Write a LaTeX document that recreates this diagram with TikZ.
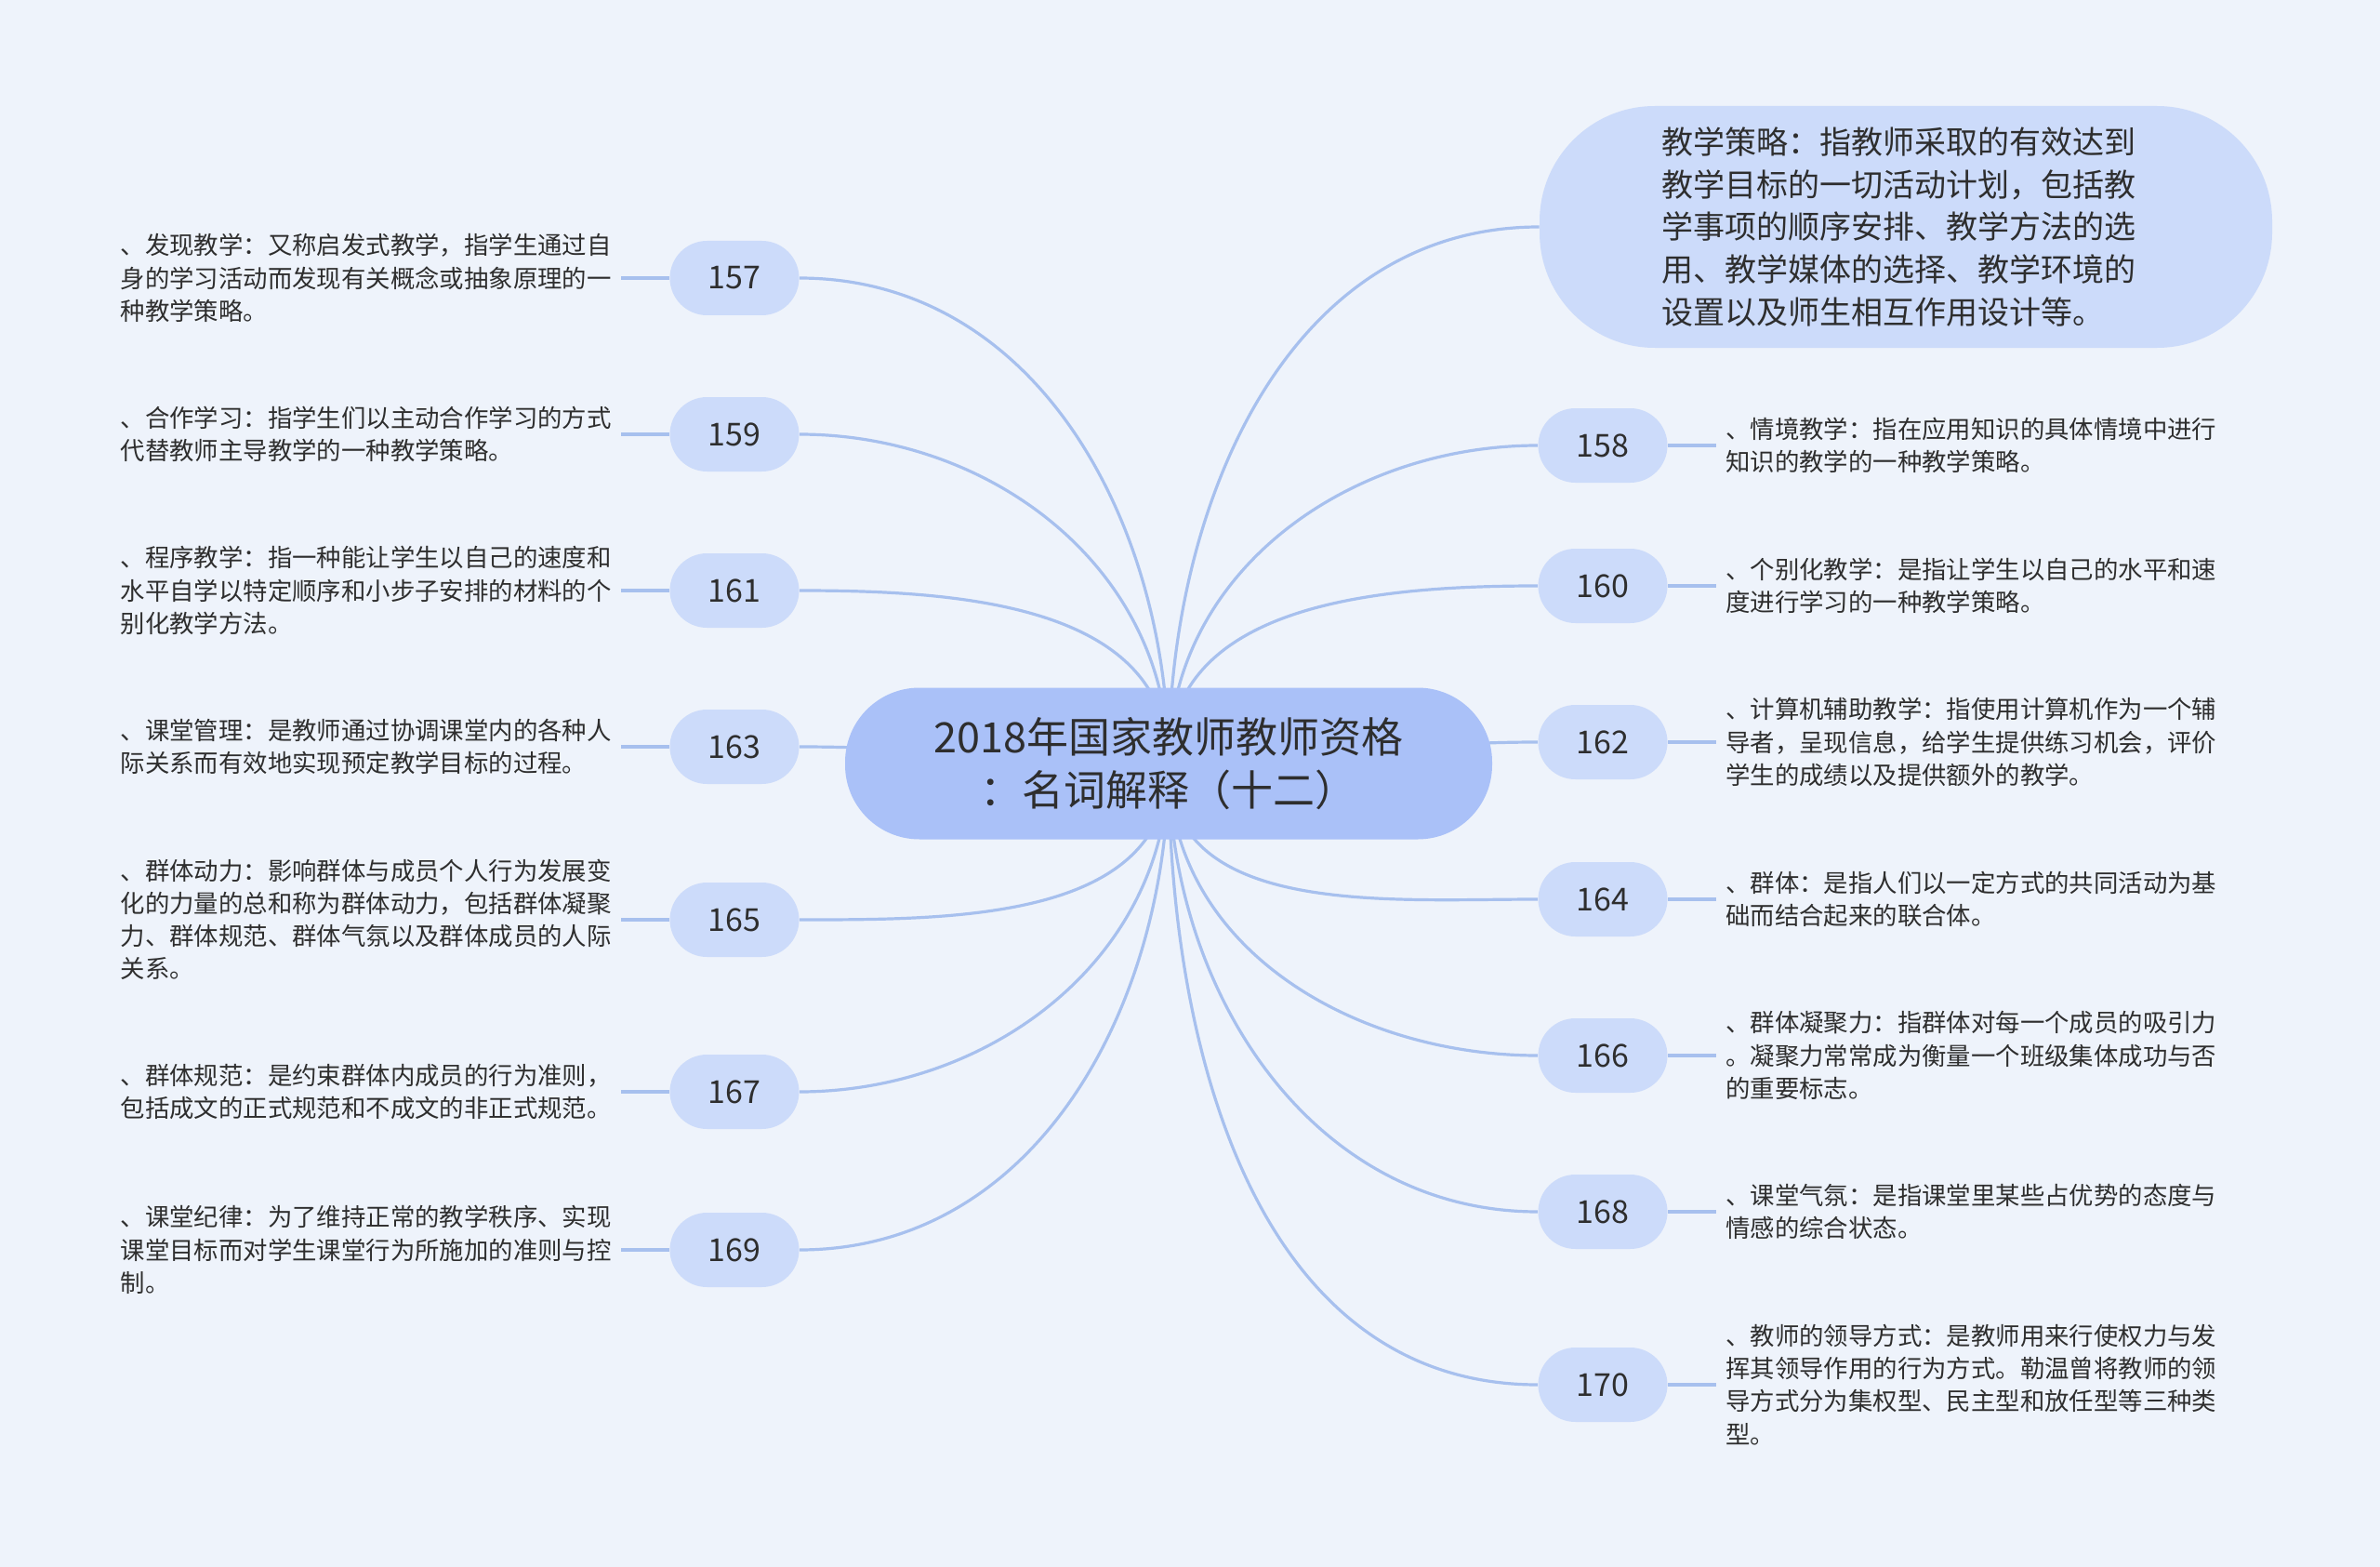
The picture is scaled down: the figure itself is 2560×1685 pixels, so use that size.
\documentclass[tikz,border=0pt]{standalone}
\usepackage{fontspec}
\setmainfont{Noto Sans CJK SC}
\usetikzlibrary{positioning}
\pgfdeclarelayer{back}
\pgfsetlayers{back,main}
\definecolor{bgcol}{HTML}{EEF3FB}
\definecolor{boxcol}{HTML}{CCDBFA}
\definecolor{rootcol}{HTML}{AAC1F8}
\definecolor{linecol}{HTML}{A7C0EE}
\definecolor{txtcol}{HTML}{2E2E2E}

\begin{document}
\begin{tikzpicture}[x=0.5pt,y=-0.5pt,every node/.style={text=txtcol},
  root/.style={fill=rootcol,rounded corners=40pt,minimum width=348pt,
    minimum height=81.5pt,align=center,font=\fontsize{22.5}{28.5}\selectfont},
  bigbox/.style={fill=boxcol,rounded corners=62pt,minimum width=394pt,
    minimum height=130pt,text width=263pt,align=left,
    font=\fontsize{17}{22.8}\selectfont},
  numbox/.style={fill=boxcol,rounded corners=20pt,minimum width=69.5pt,
    minimum height=40pt,inner sep=0pt,font=\fontsize{17}{20}\selectfont},
  note/.style={text width=264pt,align=left,inner xsep=5pt,inner ysep=0pt,
    font=\fontsize{13.2}{17.6}\selectfont},
  branch/.style={draw=linecol,line width=1.6pt}]
\useasboundingbox (0,0) rectangle (2560,1685);
\node[root] (root) at (1257,821) {2018年国家教师教师资格\\：名词解释（十二）};
\node[bigbox] (strat) at (2050,244)
 {教学策略：指教师采取的有效达到\\教学目标的一切活动计划，包括教\\学事项的顺序安排、教学方法的选\\用、教学媒体的选择、教学环境的\\设置以及师生相互作用设计等。};
% left side
\foreach \num/\y/\txt in {
 157/299/{、发现教学：又称启发式教学，指学生通过自\\身的学习活动而发现有关概念或抽象原理的一\\种教学策略。},
 159/467/{、合作学习：指学生们以主动合作学习的方式\\代替教师主导教学的一种教学策略。},
 161/635/{、程序教学：指一种能让学生以自己的速度和\\水平自学以特定顺序和小步子安排的材料的个\\别化教学方法。},
 163/803/{、课堂管理：是教师通过协调课堂内的各种人\\际关系而有效地实现预定教学目标的过程。},
 165/989/{、群体动力：影响群体与成员个人行为发展变\\化的力量的总和称为群体动力，包括群体凝聚\\力、群体规范、群体气氛以及群体成员的人际\\关系。},
 167/1174/{、群体规范：是约束群体内成员的行为准则，\\包括成文的正式规范和不成文的非正式规范。},
 169/1344/{、课堂纪律：为了维持正常的教学秩序、实现\\课堂目标而对学生课堂行为所施加的准则与控\\制。}}{
 \node[numbox] (n\num) at (790,\y) {\num};
 \node[note,left=26pt of n\num] (t\num) {\txt};}
% right side
\foreach \num/\y/\txt in {
 158/479/{、情境教学：指在应用知识的具体情境中进行\\知识的教学的一种教学策略。},
 160/630/{、个别化教学：是指让学生以自己的水平和速\\度进行学习的一种教学策略。},
 162/798/{、计算机辅助教学：指使用计算机作为一个辅\\导者，呈现信息，给学生提供练习机会，评价\\学生的成绩以及提供额外的教学。},
 164/967/{、群体：是指人们以一定方式的共同活动为基\\础而结合起来的联合体。},
 166/1135/{、群体凝聚力：指群体对每一个成员的吸引力\\。凝聚力常常成为衡量一个班级集体成功与否\\的重要标志。},
 168/1303/{、课堂气氛：是指课堂里某些占优势的态度与\\情感的综合状态。},
 170/1489/{、教师的领导方式：是教师用来行使权力与发\\挥其领导作用的行为方式。勒温曾将教师的领\\导方式分为集权型、民主型和放任型等三种类\\型。}}{
 \node[numbox] (n\num) at (1724,\y) {\num};
 \node[note,right=26pt of n\num] (t\num) {\txt};}
\begin{pgfonlayer}{back}
\fill[bgcol] (0,0) rectangle (2560,1685);
\foreach \num in {157,159,161}{\draw[branch] (root.center) to[out=90,in=0] (n\num.east);}
\foreach \num in {165,167,169}{\draw[branch] (root.center) to[out=-90,in=0] (n\num.east);}
\foreach \num in {158,160}{\draw[branch] (root.center) to[out=90,in=180] (n\num.west);}
\foreach \num in {164,166,168,170}{\draw[branch] (root.center) to[out=-90,in=180] (n\num.west);}
\draw[branch] (root.center) to[out=180,in=0] (n163.east);
\draw[branch] (root.center) to[out=0,in=180] (n162.west);
\draw[branch] (root.center) to[out=90,in=180] (strat.west);
\foreach \num in {157,159,161,163,165,167,169}{\draw[branch] (t\num.east) -- (n\num.west);}
\foreach \num in {158,160,162,164,166,168,170}{\draw[branch] (n\num.east) -- (t\num.west);}
\end{pgfonlayer}
\end{tikzpicture}
\end{document}
